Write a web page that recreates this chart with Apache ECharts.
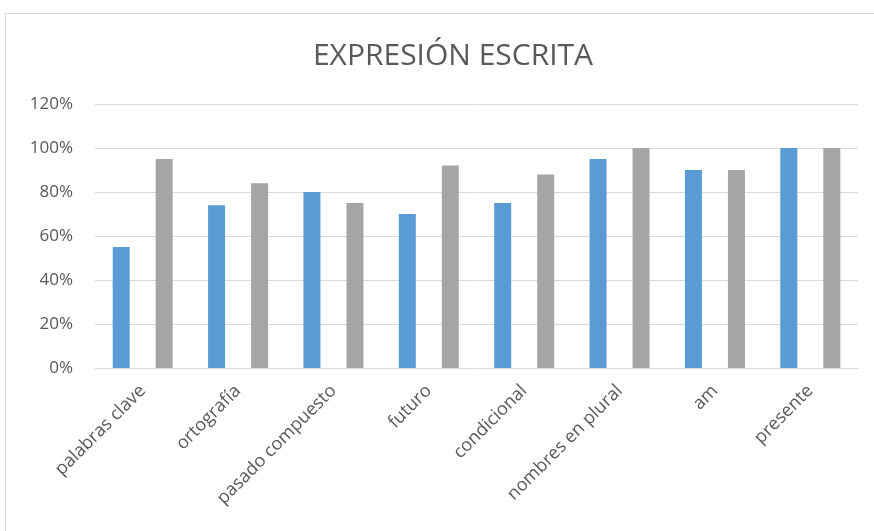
<!DOCTYPE html>
<html><head><meta charset="utf-8">
<script src="https://cdn.jsdelivr.net/npm/echarts@6/dist/echarts.min.js"></script>
<style>html,body{margin:0;padding:0;background:#fff}#c{width:874px;height:531px}</style>
</head><body><div id="c"></div>
<script>
const categories = ["palabras clave","ortografía","pasado compuesto","futuro","condicional","nombres en plural","am","presente"];
const seriesA = [55, 74, 80, 70, 75, 95, 90, 100];
const seriesB = [95, 84, 75, 92, 88, 100, 90, 100];
const yTicks = [0, 20, 40, 60, 80, 100, 120];
const titleText = "EXPRESIÓN ESCRITA";

const chart = echarts.init(document.getElementById('c'), null, {renderer:'canvas'});
const font = "'Open Sans', 'Noto Sans', sans-serif";
chart.setOption({
  animation:false,
  backgroundColor:'#fff',
  graphic:[{type:'rect', shape:{x:5.5,y:13.5,width:900,height:600}, style:{fill:'none', stroke:'#d9d9d9', lineWidth:1}, silent:true}],
  title:{text:titleText, left:448, textAlign:'center', top:36, textStyle:{fontFamily:font, fontSize:30, fontWeight:'normal', color:'#595959'}},
  grid:{left:95, right:16, top:104, bottom:163},
  xAxis:{type:'category', data:categories,
    axisLine:{show:true, lineStyle:{color:'#d9d9d9'}}, axisTick:{show:false},
    axisLabel:{rotate:45, interval:0, fontFamily:font, fontSize:18, color:'#595959', margin:20}},
  yAxis:{type:'value', min:yTicks[0], max:yTicks[yTicks.length-1], interval:20,
    axisLine:{show:false}, axisTick:{show:false},
    splitLine:{lineStyle:{color:'#d9d9d9'}},
    axisLabel:{formatter:v=>v+'%', fontFamily:font, fontSize:17, color:'#595959', margin:22}},
  series:[
    {type:'bar', data:seriesA, barWidth:17, barGap:'153%', itemStyle:{color:'#5b9bd5'}},
    {type:'bar', data:seriesB, barWidth:17, barGap:'153%', itemStyle:{color:'#a5a5a5'}}
  ]
});
</script></body></html>
